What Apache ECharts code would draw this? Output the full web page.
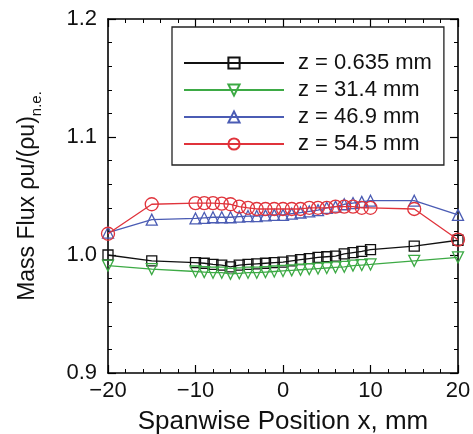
<!DOCTYPE html>
<html>
<head>
<meta charset="utf-8">
<script src="https://cdn.jsdelivr.net/npm/echarts@6/dist/echarts.min.js"></script>
<style>
html,body{margin:0;padding:0;background:#fff;}
#chart{width:473px;height:434px;}
</style>
</head>
<body>
<div id="chart"></div>
<script>
const xPositions = [-20, -15, -10, -9, -8, -7, -6, -5, -4, -3, -2, -1, 0, 1, 2, 3, 4, 5, 6, 7, 8, 9, 10, 15, 20];
const fluxZ0635 = [1.000, 0.995, 0.9935, 0.993, 0.992, 0.9915, 0.990, 0.9915, 0.992, 0.9925, 0.993, 0.9935, 0.994, 0.995, 0.996, 0.997, 0.998, 0.9985, 0.999, 1.001, 1.002, 1.003, 1.0045, 1.0075, 1.0125];
const fluxZ314 = [0.991, 0.988, 0.986, 0.9855, 0.985, 0.985, 0.984, 0.9845, 0.985, 0.985, 0.9855, 0.986, 0.9865, 0.987, 0.9875, 0.988, 0.9885, 0.989, 0.9895, 0.990, 0.991, 0.9915, 0.992, 0.995, 0.998];
const fluxZ469 = [1.019, 1.030, 1.031, 1.0315, 1.032, 1.032, 1.032, 1.0325, 1.033, 1.033, 1.0335, 1.034, 1.034, 1.035, 1.036, 1.037, 1.038, 1.040, 1.041, 1.043, 1.044, 1.045, 1.046, 1.046, 1.034];
const fluxZ545 = [1.018, 1.043, 1.044, 1.044, 1.044, 1.0435, 1.043, 1.041, 1.040, 1.039, 1.039, 1.039, 1.039, 1.039, 1.039, 1.040, 1.040, 1.040, 1.041, 1.041, 1.041, 1.040, 1.040, 1.039, 1.013];
const seriesNames = ['z = 0.635 mm', 'z = 31.4 mm', 'z = 46.9 mm', 'z = 54.5 mm'];
const xTickValues = [-20, -10, 0, 10, 20];
const yTickValues = [0.9, 1.0, 1.1, 1.2];

const FONT = 'Liberation Sans, Arial, Helvetica, sans-serif';
function pairs(vals){ return xPositions.map((x,i)=>[x, vals[i]]); }

const colors = ['#111111', '#3daa45', '#4b5cb4', '#e0333b'];
const symbols = ['rect', 'triangle', 'triangle', 'circle'];
const rotates = [0, 180, 0, 0];
const sizes = [10, 11, 11, 13];
const allVals = [fluxZ0635, fluxZ314, fluxZ469, fluxZ545];

const series = allVals.map((v, i) => ({
  name: seriesNames[i],
  type: 'line',
  data: pairs(v),
  symbol: symbols[i],
  symbolRotate: rotates[i],
  symbolSize: sizes[i],
  showAllSymbol: true,
  lineStyle: { color: colors[i], width: 1.3 },
  itemStyle: { color: 'rgba(255,255,255,0)', borderColor: colors[i], borderWidth: 1.3 },
  emphasis: { disabled: true },
  animation: false,
  z: 2 + i
}));

const axisCommon = {
  axisLine: { show: true, onZero: false, lineStyle: { color: '#000', width: 1.6 } },
  axisTick: { show: true, inside: true, length: 8, lineStyle: { color: '#000', width: 1.2 } },
  minorTick: { show: true, splitNumber: 5, length: 4, lineStyle: { color: '#000', width: 1 } },
  splitLine: { show: false }
};

const chart = echarts.init(document.getElementById('chart'), null, { renderer: 'canvas' });
chart.setOption({
  backgroundColor: '#fff',
  animation: false,
  grid: { left: 108, top: 19, width: 350, height: 354, containLabel: false, outerBoundsMode: 'none' },
  legend: {
    orient: 'vertical',
    left: 172, top: 27,
    width: 276,
    padding: [25, 12, 10, 11],
    itemWidth: 100, itemHeight: 14, itemGap: 5,
    backgroundColor: '#fff',
    borderColor: '#222', borderWidth: 1.3,
    textStyle: { fontFamily: FONT, fontSize: 22, color: '#111', padding: [0,0,0,9] },
    data: seriesNames,
    selectedMode: false
  },
  xAxis: [
    Object.assign({}, axisCommon, {
      type: 'value', min: -20, max: 20, interval: 10, position: 'bottom',
      name: 'Spanwise Position x, mm', nameLocation: 'middle', nameGap: 36,
      nameTextStyle: { fontFamily: FONT, fontSize: 26, color: '#111' },
      axisLabel: { fontFamily: FONT, fontSize: 22, color: '#111', margin: 7,
        formatter: v => xTickValues.includes(v) ? String(v).replace('-', '\u2212') : '' }
    }),
    Object.assign({}, axisCommon, {
      type: 'value', min: -20, max: 20, interval: 10, position: 'top',
      axisLabel: { show: false }
    })
  ],
  yAxis: [
    Object.assign({}, axisCommon, {
      type: 'value', min: 0.9, max: 1.2, interval: 0.1, position: 'left',
      name: '{a|Mass Flux \u03c1u/(\u03c1u)}{b|n.e.}', nameLocation: 'middle', nameGap: 64,
      nameTextStyle: { fontFamily: FONT, fontSize: 23, color: '#111',
        rich: { a: { fontFamily: FONT, fontSize: 23, color: '#111', lineHeight: 32 },
                b: { fontFamily: FONT, fontSize: 15, color: '#111', verticalAlign: 'bottom', lineHeight: 16 } } },
      axisLabel: { fontFamily: FONT, fontSize: 22, color: '#111', margin: 11,
        formatter: v => { const t = yTickValues.find(y => Math.abs(y - v) < 1e-9); return t !== undefined ? t.toFixed(1) : ''; } }
    }),
    Object.assign({}, axisCommon, {
      type: 'value', min: 0.9, max: 1.2, interval: 0.1, position: 'right',
      axisLabel: { show: false }
    })
  ],
  series: series
});
</script>
</body>
</html>
